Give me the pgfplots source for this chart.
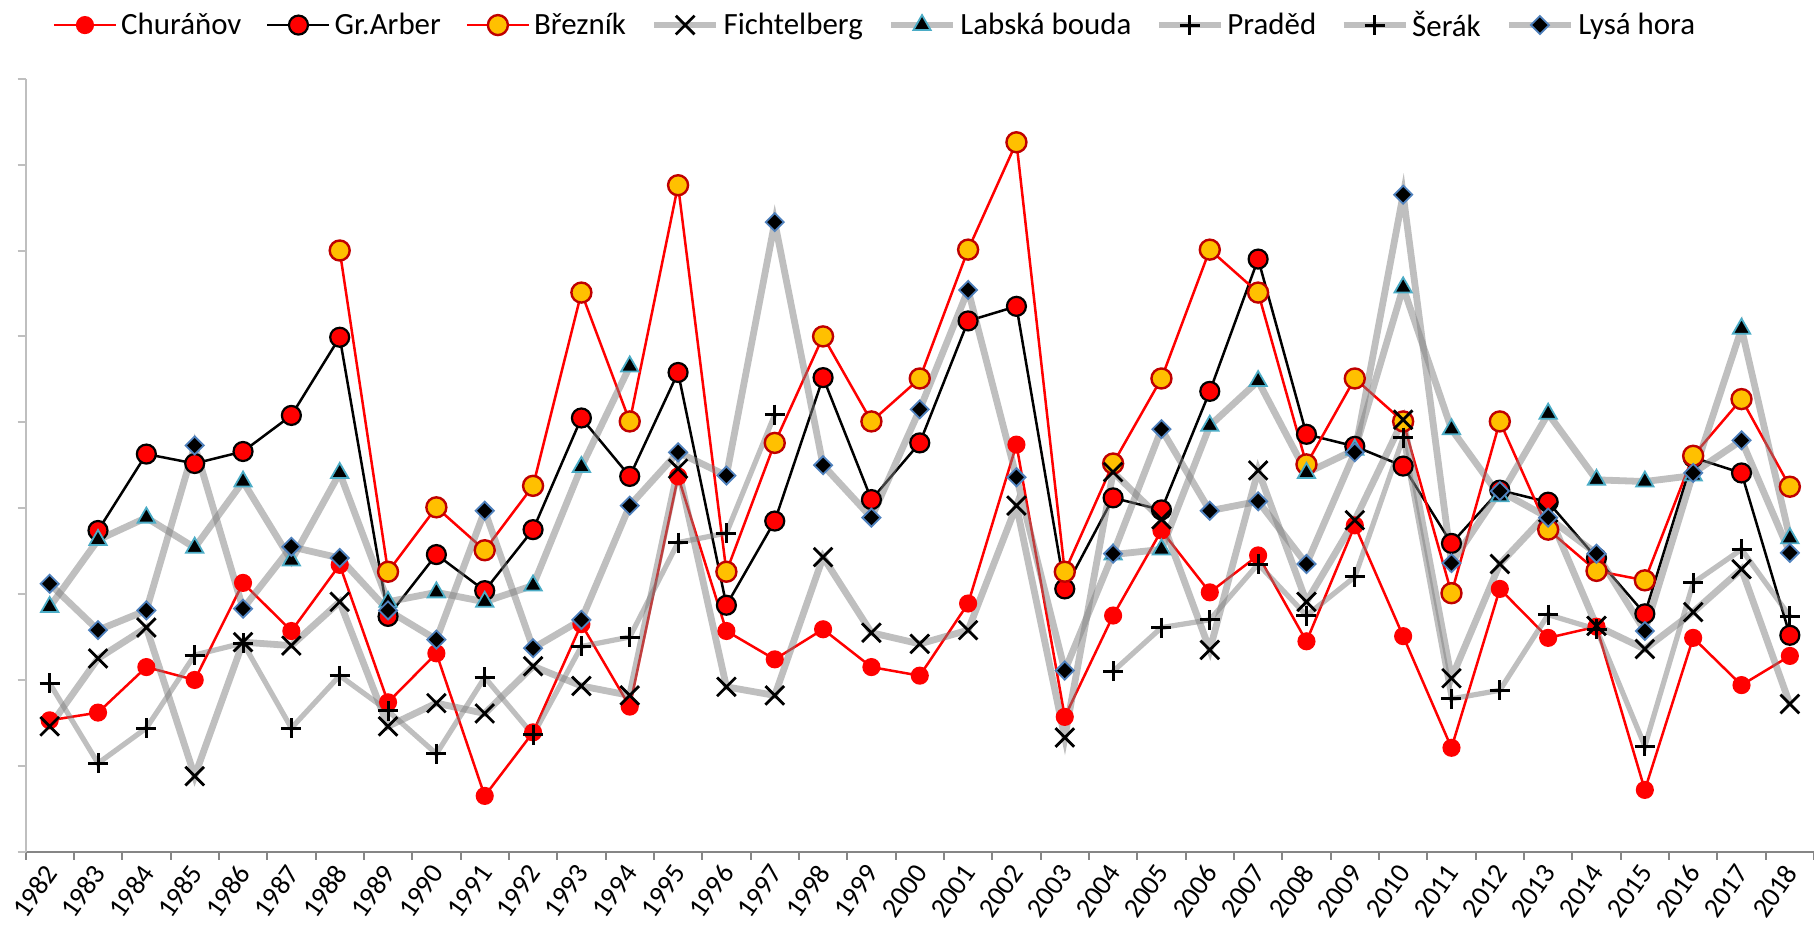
\documentclass[border=0pt]{standalone}
\usepackage{fontspec}
\setmainfont{Carlito}
\usepackage{pgfplots}
\usepackage{pgfplotstable}
\pgfplotsset{compat=1.18}
\definecolor{brezfill}{HTML}{FFC000}
\definecolor{brezdraw}{HTML}{C00000}
\definecolor{lgray}{HTML}{7F7F7F}
\definecolor{triedge}{HTML}{4BACC6}
\definecolor{diaedge}{HTML}{4F81BD}
\definecolor{axgray}{HTML}{868686}
\definecolor{yaxgray}{HTML}{BFBFBF}
\pgfplotstableread{
year chur arber brez ficht lab prad ser lysa
1982 15.3 nan nan 14.6 28.5 19.6 nan 31.2
1983 16.2 37.4 nan 22.5 36.3 10.3 nan 25.8
1984 21.5 46.3 nan 26.1 38.9 14.4 nan 28.1
1985 20.0 45.2 nan 8.8 35.4 22.9 nan 47.3
1986 31.3 46.6 nan 24.4 43.1 24.3 nan 28.3
1987 25.7 50.8 nan 24.0 33.9 14.4 nan 35.5
1988 33.4 59.9 70.0 29.1 44.1 20.5 nan 34.2
1989 17.4 27.4 32.6 14.6 29.1 16.4 nan 28.1
1990 23.1 34.6 40.1 17.3 30.2 11.4 nan 24.7
1991 6.5 30.4 35.1 16.1 29.1 20.3 nan 39.7
1992 13.9 37.5 42.6 21.6 31.0 13.6 nan 23.7
1993 26.5 50.5 65.1 19.3 44.8 23.9 nan 27.0
1994 16.9 43.7 50.1 18.2 56.5 25.0 nan 40.3
1995 43.7 55.8 77.6 44.6 nan 36.0 nan 46.5
1996 25.7 28.7 32.6 19.2 nan 37.1 nan 43.8
1997 22.4 38.5 47.6 18.2 nan 50.9 nan 73.3
1998 25.9 55.2 60.0 34.3 nan nan nan 45.0
1999 21.5 41.0 50.1 25.5 nan nan nan 38.9
2000 20.5 47.6 55.1 24.2 nan nan nan 51.5
2001 28.9 61.8 70.1 25.8 nan nan nan 65.4
2002 47.4 63.5 82.6 40.3 nan nan nan 43.6
2003 15.7 30.6 32.6 13.3 nan nan nan 21.1
2004 27.5 41.2 45.2 44.2 34.6 nan 21.0 34.7
2005 37.4 39.8 55.1 38.7 35.2 nan 26.1 49.2
2006 30.2 53.6 70.1 23.5 49.6 nan 27.0 39.7
2007 34.5 69.0 65.1 44.4 54.8 nan 33.5 40.8
2008 24.5 48.6 45.1 29.1 44.1 nan 27.5 33.5
2009 38.0 47.2 55.1 38.6 46.8 nan 32.0 46.5
2010 25.1 44.9 50.1 50.3 65.7 nan 48.2 76.5
2011 12.1 35.9 30.1 20.2 49.2 nan 17.8 33.6
2012 30.6 42.1 50.1 33.5 41.4 nan 18.8 42.0
2013 24.9 40.7 37.5 39.5 51.0 nan 27.6 38.9
2014 26.2 34.2 32.7 26.3 43.3 nan 25.9 34.7
2015 7.2 27.7 31.6 23.6 43.1 nan 12.3 25.7
2016 24.9 45.9 46.1 27.9 43.8 nan 31.3 44.1
2017 19.4 44.1 52.7 32.9 60.9 nan 35.2 47.9
2018 22.8 25.2 42.5 17.2 36.5 nan 27.4 34.8
}\data
\begin{document}
\begin{tikzpicture}
\begin{axis}[
  width=894bp, height=386.4bp, scale only axis,
  xmin=1981.5, xmax=2018.5, ymin=0, ymax=90,
  axis x line*=bottom, axis y line*=left,
  x axis line style={-, draw=axgray, line width=1bp},
  y axis line style={-, draw=yaxgray, line width=1bp},
  tick align=outside, major tick length=4bp,
  ytick={0,10,...,90}, yticklabels={},
  ytick style={draw=yaxgray, line width=1bp},
  xtick={1981.5,1982.5,...,2018.5},
  x tick label as interval,
  xticklabels={1982,1983,1984,1985,1986,1987,1988,1989,1990,1991,1992,1993,1994,1995,1996,1997,1998,1999,2000,2001,2002,2003,2004,2005,2006,2007,2008,2009,2010,2011,2012,2013,2014,2015,2016,2017,2018},
  xtick style={draw=axgray, line width=1bp},
  xticklabel style={yshift=-4bp, xshift=0.7bp, rotate=55, anchor=east, inner sep=0pt, font=\fontsize{14}{14}\selectfont},
  unbounded coords=jump,
  legend style={at={(0.4755,1.0694)}, anchor=center, draw=none, fill=none,
    legend columns=-1, font=\fontsize{15.5}{15.5}\selectfont,
    /tikz/every even column/.append style={column sep=10.4bp}},
  legend image code/.code={\draw[mark repeat=2,mark phase=2] plot coordinates {(0bp,0bp) (15.5bp,0bp) (31bp,0bp)};},
]
\addplot[red, line width=1.25bp, mark=*, mark size=3.9bp, mark options={fill=red, draw=none}] table[x=year,y=chur] {\data};
\addlegendentry{Churáňov}
\addplot[black, line width=1.25bp, mark=*, mark size=4.75bp, mark options={fill=red, draw=black, line width=1.1bp}] table[x=year,y=arber] {\data};
\addlegendentry{Gr.Arber}
\addplot[red, line width=1.25bp, mark=*, mark size=5bp, mark options={fill=brezfill, draw=brezdraw, line width=1.2bp}] table[x=year,y=brez] {\data};
\addlegendentry{Březník}
\addplot[lgray, draw opacity=0.5, line width=3.4bp, mark=x, mark size=6.6bp, mark options={draw=black, draw opacity=1, line width=1.4bp}] table[x=year,y=ficht] {\data};
\addlegendentry{Fichtelberg}
\addplot[lgray, draw opacity=0.5, line width=3.4bp, mark=triangle*, mark size=5bp, mark options={fill=black, draw=triedge, draw opacity=1, line width=0.9bp}] table[x=year,y=lab] {\data};
\addlegendentry{Labská bouda}
\addplot[lgray, draw opacity=0.5, line width=2.6bp, mark=+, mark size=5bp, mark options={draw=black, draw opacity=1, line width=1.5bp}] table[x=year,y=prad] {\data};
\addlegendentry{Praděd}
\addplot[lgray, draw opacity=0.5, line width=2.6bp, mark=+, mark size=5bp, mark options={draw=black, draw opacity=1, line width=1.5bp}] table[x=year,y=ser] {\data};
\addlegendentry{Šerák}
\addplot[lgray, draw opacity=0.5, line width=3.4bp, mark=square*, mark size=3.2bp, mark options={rotate=45, fill=black, draw=diaedge, draw opacity=1, line width=0.9bp}] table[x=year,y=lysa] {\data};
\addlegendentry{Lysá hora}
\end{axis}
\pgfresetboundingbox
\path ([xshift=-12.75bp, yshift=-36.25bp]current axis.south west) rectangle ([yshift=39.35bp]current axis.north east);
\end{tikzpicture}
\end{document}
